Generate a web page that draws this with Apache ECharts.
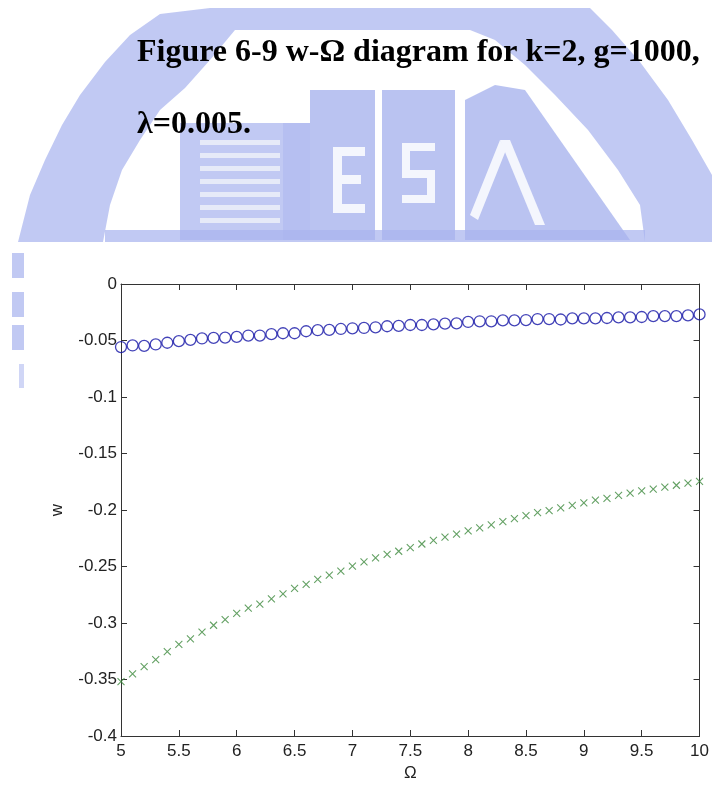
<!DOCTYPE html>
<html>
<head>
<meta charset="utf-8">
<script src="https://cdn.jsdelivr.net/npm/echarts@6/dist/echarts.min.js"></script>
<style>
html,body{margin:0;padding:0;background:#fff;}
#chart{width:712px;height:787px;}
</style>
</head>
<body>
<div id="chart"></div>
<script>
// Omega values (x)
var omega = [5.0,5.1,5.2,5.3,5.4,5.5,5.6,5.7,5.8,5.9,6.0,6.1,6.2,6.3,6.4,6.5,6.6,6.7,6.8,6.9,7.0,7.1,7.2,7.3,7.4,7.5,7.6,7.7,7.8,7.9,8.0,8.1,8.2,8.3,8.4,8.5,8.6,8.7,8.8,8.9,9.0,9.1,9.2,9.3,9.4,9.5,9.6,9.7,9.8,9.9,10.0];
// upper branch (blue circles)
var wCircle = [-0.0558,-0.0544,-0.0547,-0.0535,-0.0520,-0.0506,-0.0494,-0.0482,-0.0477,-0.0474,-0.0468,-0.0456,-0.0456,-0.0444,-0.0436,-0.0436,-0.0418,-0.0409,-0.0406,-0.0398,-0.0392,-0.0389,-0.0383,-0.0374,-0.0371,-0.0363,-0.0363,-0.0357,-0.0351,-0.0348,-0.0336,-0.0330,-0.0330,-0.0322,-0.0322,-0.0319,-0.0310,-0.0310,-0.0314,-0.0304,-0.0304,-0.0304,-0.0301,-0.0295,-0.0295,-0.0292,-0.0284,-0.0284,-0.0284,-0.0278,-0.0269];
// lower branch (green crosses)
var wCross = [-0.3518,-0.3450,-0.3386,-0.3325,-0.3254,-0.3190,-0.3140,-0.3080,-0.3020,-0.2970,-0.2915,-0.2868,-0.2833,-0.2787,-0.2743,-0.2693,-0.2658,-0.2614,-0.2576,-0.2541,-0.2497,-0.2459,-0.2424,-0.2392,-0.2365,-0.2333,-0.2301,-0.2269,-0.2240,-0.2213,-0.2184,-0.2158,-0.2132,-0.2102,-0.2076,-0.2050,-0.2024,-0.2006,-0.1982,-0.1959,-0.1936,-0.1912,-0.1898,-0.1871,-0.1851,-0.1831,-0.1816,-0.1798,-0.1781,-0.1763,-0.1746];
var titleLine1 = 'Figure 6-9 w-\u03A9 diagram for k=2, g=1000,';
var titleLine2 = '\u03BB=0.005.';
var xName = '\u03A9';
var yName = 'w';

function pairs(xs, ys){ var out=[]; for(var i=0;i<xs.length;i++){ out.push([xs[i], ys[i]]); } return out; }

var wm = '#a9b4ee';
var op = 0.72;
var graphics = [
  {type:'polygon', z:-10, shape:{points:[[18,242],[30,195],[45,160],[62,125],[80,95],[105,62],[130,35],[160,14],[210,8],[590,8],[612,30],[640,62],[668,100],[692,140],[712,175],[712,242],[645,242],[640,205],[618,170],[588,130],[555,95],[525,65],[495,40],[470,30],[235,30],[210,60],[185,88],[160,110],[140,140],[122,170],[110,205],[103,242]]}, style:{fill:wm, opacity:op}},
  {type:'rect', z:-10, shape:{x:180,y:123,width:103,height:117}, style:{fill:wm, opacity:op}},
  {type:'rect', z:-10, shape:{x:283,y:123,width:27,height:117}, style:{fill:wm, opacity:0.85}},
  {type:'rect', z:-10, shape:{x:310,y:90,width:65,height:150}, style:{fill:wm, opacity:0.8}},
  {type:'rect', z:-10, shape:{x:382,y:90,width:73,height:150}, style:{fill:wm, opacity:0.8}},
  {type:'polygon', z:-10, shape:{points:[[465,240],[465,100],[495,85],[525,90],[630,240]]}, style:{fill:wm, opacity:0.8}},
  {type:'rect', z:-10, shape:{x:105,y:230,width:540,height:12}, style:{fill:wm, opacity:op}},
  {type:'rect', z:-10, shape:{x:12,y:253,width:12,height:25}, style:{fill:wm, opacity:op}},
  {type:'rect', z:-10, shape:{x:12,y:292,width:12,height:25}, style:{fill:wm, opacity:op}},
  {type:'rect', z:-10, shape:{x:12,y:325,width:12,height:25}, style:{fill:wm, opacity:op}},
  {type:'rect', z:-10, shape:{x:19,y:364,width:5,height:24}, style:{fill:wm, opacity:0.55}}
];
// stripes in the left box
[140,153,166,179,192,205,218].forEach(function(y){
  graphics.push({type:'rect', z:-9, shape:{x:200,y:y,width:80,height:5}, style:{fill:'#e6eaf8'}});
});
// white E
[[333,147,9,66],[333,147,32,9],[333,175,28,9],[333,204,32,9]].forEach(function(r){
  graphics.push({type:'rect', z:-9, shape:{x:r[0],y:r[1],width:r[2],height:r[3]}, style:{fill:'#f4f6fd'}});
});
// white S
[[402,143,33,8],[402,143,8,32],[402,170,33,8],[427,170,8,33],[402,195,33,8]].forEach(function(r){
  graphics.push({type:'rect', z:-9, shape:{x:r[0],y:r[1],width:r[2],height:r[3]}, style:{fill:'#f4f6fd'}});
});
// white A strokes
graphics.push({type:'polygon', z:-9, shape:{points:[[500,140],[510,140],[545,225],[535,225]]}, style:{fill:'#f4f6fd'}});
graphics.push({type:'polygon', z:-9, shape:{points:[[470,215],[500,140],[506,150],[478,220]]}, style:{fill:'#f4f6fd'}});

var axisColor = '#333';
var labelFont = {color:'#222', fontSize:17, fontFamily:'Liberation Sans, Arial, sans-serif'};
var titleFont = {fontFamily:'Liberation Serif, Times New Roman, serif', fontWeight:'bold', fontSize:32, color:'#000'};

var option = {
  backgroundColor:'#fff',
  animation:false,
  title:[
    {text:titleLine1, left:137, top:37, padding:0, textStyle:titleFont},
    {text:titleLine2, left:137, top:109, padding:0, textStyle:titleFont}
  ],
  graphic: graphics,
  grid:{left:121, top:284, right:11, bottom:48, containLabel:false},
  xAxis:[
    {type:'value', min:5, max:10, interval:0.5, position:'bottom',
     name:xName, nameLocation:'middle', nameGap:29, nameTextStyle:labelFont,
     axisLine:{show:true, onZero:false, lineStyle:{color:axisColor, width:1}},
     axisTick:{show:true, inside:true, length:6, lineStyle:{color:axisColor}},
     axisLabel:{show:true, margin:7, color:'#222', fontSize:17, fontFamily:'Liberation Sans, Arial, sans-serif'},
     splitLine:{show:false}},
    {type:'value', min:5, max:10, interval:0.5, position:'top',
     axisLine:{show:true, onZero:false, lineStyle:{color:axisColor, width:1}},
     axisTick:{show:true, inside:true, length:6, lineStyle:{color:axisColor}},
     axisLabel:{show:false}, splitLine:{show:false}}
  ],
  yAxis:[
    {type:'value', min:-0.4, max:0, interval:0.05, position:'left',
     name:yName, nameLocation:'middle', nameGap:55, nameRotate:90, nameTextStyle:labelFont,
     axisLine:{show:true, onZero:false, lineStyle:{color:axisColor, width:1}},
     axisTick:{show:true, inside:true, length:6, lineStyle:{color:axisColor}},
     axisLabel:{show:true, margin:4, color:'#222', fontSize:17, fontFamily:'Liberation Sans, Arial, sans-serif'},
     splitLine:{show:false}},
    {type:'value', min:-0.4, max:0, interval:0.05, position:'right',
     axisLine:{show:true, onZero:false, lineStyle:{color:axisColor, width:1}},
     axisTick:{show:true, inside:true, length:6, lineStyle:{color:axisColor}},
     axisLabel:{show:false}, splitLine:{show:false}}
  ],
  series:[
    {type:'scatter', xAxisIndex:0, yAxisIndex:0, data:pairs(omega, wCircle), clip:false,
     symbol:'circle', symbolSize:11,
     itemStyle:{color:'rgba(0,0,0,0)', borderColor:'#1414a6', borderWidth:1.3}},
    {type:'scatter', xAxisIndex:0, yAxisIndex:0, data:pairs(omega, wCross), clip:false,
     symbol:'path://M0,0L10,10M10,0L0,10', symbolSize:7,
     itemStyle:{color:'rgba(0,0,0,0)', borderColor:'#3d8a3d', borderWidth:1.1}}
  ]
};
var chart = echarts.init(document.getElementById('chart'), null, {renderer:'canvas'});
chart.setOption(option);
</script>
</body>
</html>
